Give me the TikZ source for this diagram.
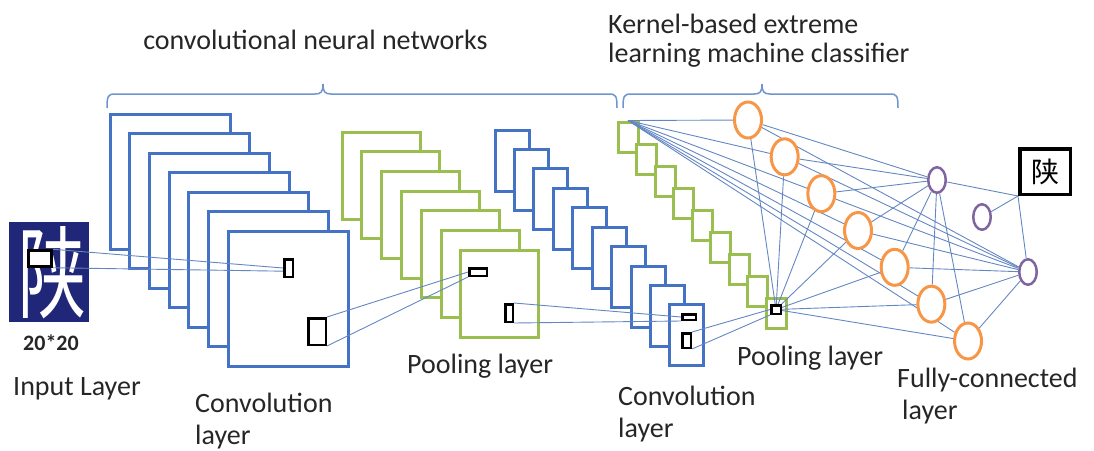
\documentclass[tikz,border=0pt]{standalone}
\usepackage{fontspec}
\setmainfont{Carlito}
\newfontfamily\cjk{Noto Sans CJK SC}
\usepackage{graphicx}
\usetikzlibrary{shapes.geometric}

\definecolor{cnnblue}{RGB}{68,114,196}
\definecolor{cnngreen}{RGB}{155,190,80}
\definecolor{cnnorange}{RGB}{247,150,70}
\definecolor{cnnpurple}{RGB}{128,100,162}
\definecolor{navy}{RGB}{32,38,120}
\definecolor{linkc}{RGB}{100,135,195}
\definecolor{bracec}{RGB}{110,150,205}
\definecolor{textc}{RGB}{38,38,38}

\pgfdeclarelayer{back}
\pgfdeclarelayer{edges}
\pgfsetlayers{back,edges,main}

\begin{document}
\begin{tikzpicture}[x=1pt,y=-1pt,
  sheet/.style={rectangle, line width=3pt, fill=white, inner sep=0pt, anchor=north west},
  convA/.style={sheet, draw=cnnblue, minimum width=120pt, minimum height=135pt},
  poolA/.style={sheet, draw=cnngreen, minimum width=78pt, minimum height=87pt},
  convB/.style={sheet, draw=cnnblue, minimum width=34pt, minimum height=61pt},
  poolB/.style={sheet, draw=cnngreen, minimum width=20pt, minimum height=30pt},
  probe/.style={rectangle, draw=black, line width=2.5pt, fill=white, inner sep=0pt},
  neuron/.style={ellipse, draw=cnnorange, line width=3pt, fill=white, inner sep=0pt,
    minimum width=27pt, minimum height=36pt},
  outunit/.style={ellipse, draw=cnnpurple, line width=2.5pt, fill=white, inner sep=0pt,
    minimum width=17.5pt, minimum height=25.5pt},
  link/.style={draw=linkc, line width=0.9pt},
  brc/.style={draw=bracec, line width=1.5pt},
  lbl/.style={font=\fontsize{28}{32}\selectfont, text=textc, inner sep=0pt, anchor=base west}]

\useasboundingbox (0,0) rectangle (1094,450);

% ---------- feature map stacks ----------
\begin{pgfonlayer}{back}
  % input image
  \node[fill=navy, minimum width=80pt, minimum height=100pt, inner sep=0pt] (inimg) at (49,272) {};
  \node[text=white, inner sep=0pt] (inchar) at (52,272.5)
    {\scalebox{0.68}[1]{\cjk\fontsize{100}{100}\selectfont 陕}};
  % first convolution layer
  \foreach \i in {0,...,6}
    \node[convA] (ca\i) at ({108.5+19.67*\i},{112.5+19.5*\i}) {};
  % first pooling layer
  \foreach \i in {0,...,6}
    \node[poolA] (pa\i) at ({340.5+19.83*\i},{130.5+19.67*\i}) {};
  % second convolution layer
  \foreach \i in {0,...,9}
    \node[convB] (cb\i) at ({493.5+19.44*\i},{128.5+19.44*\i}) {};
  % second pooling layer
  \foreach \i in {0,...,8}
    \node[poolB] (pb\i) at ({616.5+18.5*\i},{120.5+22.1*\i}) {};
\end{pgfonlayer}

% ---------- receptive field markers ----------
\node[probe, minimum width=23pt, minimum height=16pt] (inmark) at (40,258.5) {};
\node[probe, minimum width=8.5pt, minimum height=17.5pt] (s1) at (288.5,268) {};
\node[probe, minimum width=17.5pt, minimum height=26.5pt] (s2) at (317,331.5) {};
\node[probe, minimum width=17.5pt, minimum height=7.5pt] (h) at (478,272) {};
\node[probe, minimum width=7.5pt, minimum height=17.5pt] (v) at (509,313) {};
\node[probe, minimum width=13.5pt, minimum height=5.5pt] (h3) at (689,317) {};
\node[probe, minimum width=8.5pt, minimum height=14.5pt] (v3) at (686.5,340.5) {};
\node[probe, minimum width=9.5pt, minimum height=8.5pt] (g) at (776,309.5) {};

% ---------- classifier units ----------
\foreach \i in {1,...,7}
  \node[neuron] (o\i) at ({748+36.67*(\i-1)},{120+36.83*(\i-1)}) {};
\node[outunit] (p1) at (937,180) {};
\node[outunit] (p2) at (982,217) {};
\node[outunit] (p3) at (1028,272) {};
\node[rectangle, draw=black, line width=3.5pt, fill=white, inner sep=0pt,
      minimum width=50.5pt, minimum height=45.5pt] (out) at (1045,171.5)
  {\cjk\fontsize{28}{28}\selectfont 陕};

% ---------- connections ----------
\begin{pgfonlayer}{edges}
  \draw[link] (inmark.north east) -- (s1.west);
  \draw[link] (inmark.south east) -- (s1.210);
  \draw[link] (s2.north east) -- (h.west);
  \draw[link] (s2.south east) -- (h.south west);
  \draw[link] (v.north east) -- (h3.west);
  \draw[link] (v.south east) -- (h3.south west);
  \draw[link] (v3.north east) -- (g.west);
  \draw[link] (v3.south east) -- (g.south west);
  \foreach \i in {1,...,7} {
    \draw[link] (pb0.north) -- (o\i);
    \draw[link] (g) -- (o\i);
    \draw[link] (o\i) -- (p1);
    \draw[link] (o\i) -- (p3);
  }
  \foreach \j in {1,2,3}
    \draw[link] (p\j) -- (out.south west);
\end{pgfonlayer}

% ---------- braces ----------
\draw[brc] (107,108) .. controls (107,96) and (108,94) .. (115,94)
  -- (315,94) .. controls (321,94) and (323,92) .. (323,84)
  .. controls (323,92) and (325,94) .. (331,94)
  -- (609,94) .. controls (616,94) and (617,96) .. (617,108);
\draw[brc] (623,108) .. controls (623,96) and (624,94) .. (631,94)
  -- (754,94) .. controls (760,94) and (762,92) .. (762,84)
  .. controls (762,92) and (764,94) .. (770,94)
  -- (890,94) .. controls (897,94) and (898,96) .. (898,108);

% ---------- labels ----------
\node[lbl, anchor=base] (tcnn) at (315.5,49) {convolutional neural networks};
\node[lbl] (tkelm1) at (608,33) {Kernel-based extreme};
\node[lbl] (tkelm2) at (608,62) {learning machine classifier};
\node[font=\bfseries\fontsize{22}{22}\selectfont, text=textc, inner sep=0pt, anchor=base]
  (tsize) at (51,350) {20*20};
\node[lbl] (tin) at (13,395) {Input Layer};
\node[lbl] (tc1a) at (195,412) {Convolution};
\node[lbl] (tc1b) at (195,444) {layer};
\node[lbl] (tp1) at (407,373) {Pooling layer};
\node[lbl] (tc2a) at (618,405) {Convolution};
\node[lbl] (tc2b) at (618,437) {layer};
\node[lbl] (tp2) at (737,365) {Pooling layer};
\node[lbl] (tfc1) at (897,387) {Fully-connected};
\node[lbl] (tfc2) at (902,419) {layer};
\end{tikzpicture}
\end{document}
